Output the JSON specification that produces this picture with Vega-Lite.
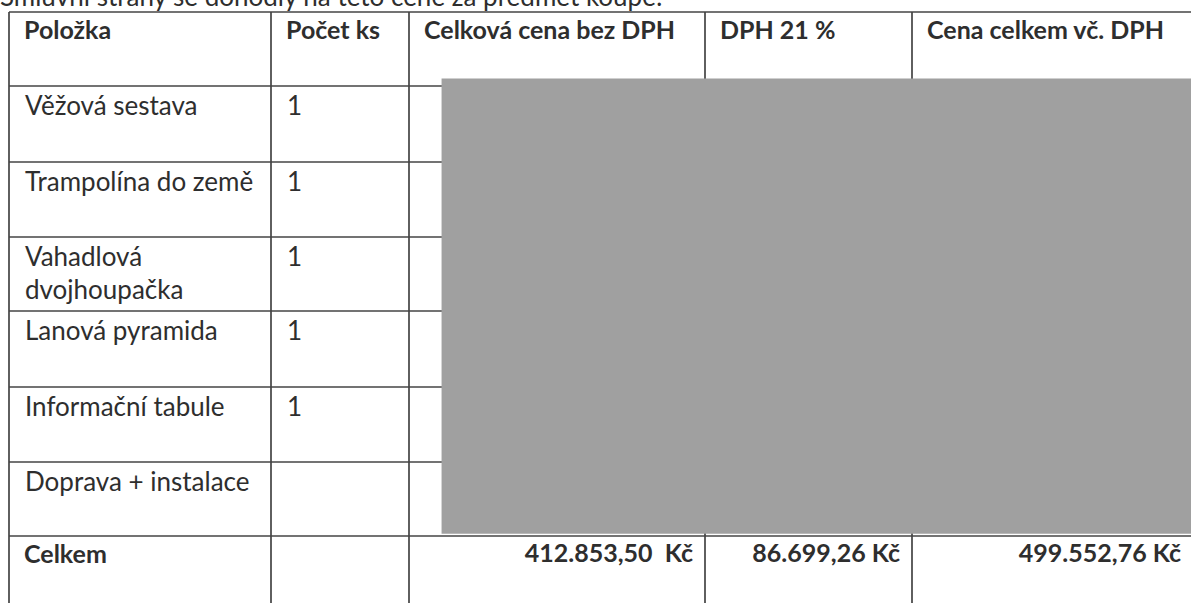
{
  "$schema": "https://vega.github.io/schema/vega-lite/v6.json",
  "width": 1191,
  "height": 603,
  "autosize": {"type": "none"},
  "padding": 0,
  "background": "white",
  "config": {
    "view": {"stroke": null},
    "text": {"font": "Lato", "fontSize": 25, "color": "#2e2e2e", "lineBreak": "\n", "lineHeight": 33, "baseline": "alphabetic", "align": "left"}
  },
  "datasets": {
    "hlines": [{"r": 0}, {"r": 1}, {"r": 2}, {"r": 3}, {"r": 4}, {"r": 5}, {"r": 6}, {"r": 7}, {"r": 8}],
    "vlines": [{"c": 0}, {"c": 1}, {"c": 2}, {"c": 3}, {"c": 4}, {"c": 5}],
    "redaction": [{"c0": 2.11, "c1": 5, "r0": 0.9, "r1": 6.97}],
    "caption": [{"text": "Smluvní strany se dohodly na této ceně za předmět koupě:"}],
    "cells": [
      {"section": "header", "r": 0, "c": 0, "text": "Položka"},
      {"section": "header", "r": 0, "c": 1, "text": "Počet ks"},
      {"section": "header", "r": 0, "c": 2, "text": "Celková cena bez DPH"},
      {"section": "header", "r": 0, "c": 3, "text": "DPH 21 %"},
      {"section": "header", "r": 0, "c": 4, "text": "Cena celkem vč. DPH"},
      {"section": "item", "r": 1, "c": 0, "text": "Věžová sestava"},
      {"section": "item", "r": 1, "c": 1, "text": "1"},
      {"section": "item", "r": 2, "c": 0, "text": "Trampolína do země"},
      {"section": "item", "r": 2, "c": 1, "text": "1"},
      {"section": "item", "r": 3, "c": 0, "text": "Vahadlová\ndvojhoupačka"},
      {"section": "item", "r": 3, "c": 1, "text": "1"},
      {"section": "item", "r": 4, "c": 0, "text": "Lanová pyramida"},
      {"section": "item", "r": 4, "c": 1, "text": "1"},
      {"section": "item", "r": 5, "c": 0, "text": "Informační tabule"},
      {"section": "item", "r": 5, "c": 1, "text": "1"},
      {"section": "item", "r": 6, "c": 0, "text": "Doprava + instalace"},
      {"section": "totalLabel", "r": 7, "c": 0, "text": "Celkem"},
      {"section": "total", "r": 7, "c": 2, "text": "412.853,50\u00a0 Kč"},
      {"section": "total", "r": 7, "c": 3, "text": "86.699,26 Kč"},
      {"section": "total", "r": 7, "c": 4, "text": "499.552,76 Kč"}
    ]
  },
  "layer": [
    {
      "data": {"name": "hlines"},
      "mark": {"type": "rule", "color": "#444444", "strokeWidth": 1.7},
      "encoding": {
        "y": {"field": "r", "type": "quantitative", "scale": {"domain": [0, 1, 2, 3, 4, 5, 6, 7, 8], "range": [12, 86, 162, 237, 311, 387, 462, 536, 611], "nice": false, "zero": false}, "axis": null},
        "x": {"datum": 0, "type": "quantitative", "scale": {"domain": [0, 1, 2, 3, 4, 5], "range": [9, 271, 409, 705, 912, 1193], "nice": false, "zero": false}, "axis": null},
        "x2": {"datum": 5}
      }
    },
    {
      "data": {"name": "vlines"},
      "mark": {"type": "rule", "color": "#444444", "strokeWidth": 1.7},
      "encoding": {
        "x": {"field": "c", "type": "quantitative", "axis": null},
        "y": {"datum": 0, "type": "quantitative", "axis": null},
        "y2": {"datum": 8}
      }
    },
    {
      "data": {"name": "redaction"},
      "mark": {"type": "rect", "color": "#a0a0a0"},
      "encoding": {
        "x": {"field": "c0", "type": "quantitative", "axis": null},
        "x2": {"field": "c1"},
        "y": {"field": "r0", "type": "quantitative", "axis": null},
        "y2": {"field": "r1"}
      }
    },
    {
      "data": {"name": "cells"},
      "transform": [{"filter": "datum.section === 'header' || datum.section === 'totalLabel'"}],
      "mark": {"type": "text", "fontWeight": "bold", "dx": 15, "dy": 27},
      "encoding": {
        "x": {"field": "c", "type": "quantitative", "axis": null},
        "y": {"field": "r", "type": "quantitative", "axis": null},
        "text": {"field": "text"}
      }
    },
    {
      "data": {"name": "cells"},
      "transform": [{"filter": "datum.section === 'item'"}],
      "mark": {"type": "text", "dx": 16, "dy": 29, "fontSize": 26},
      "encoding": {
        "x": {"field": "c", "type": "quantitative", "axis": null},
        "y": {"field": "r", "type": "quantitative", "axis": null},
        "text": {"field": "text"}
      }
    },
    {
      "data": {"name": "cells"},
      "transform": [{"filter": "datum.section === 'total'"}, {"calculate": "datum.c + 1", "as": "cRight"}],
      "mark": {"type": "text", "fontWeight": "bold", "align": "right", "dx": -12, "dy": 26},
      "encoding": {
        "x": {"field": "cRight", "type": "quantitative", "axis": null},
        "y": {"field": "r", "type": "quantitative", "axis": null},
        "text": {"field": "text"}
      }
    },
    {
      "data": {"name": "caption"},
      "mark": {"type": "text", "dx": -9, "dy": -6, "fontSize": 26},
      "encoding": {
        "x": {"datum": 0, "type": "quantitative", "axis": null},
        "y": {"datum": 0, "type": "quantitative", "axis": null},
        "text": {"field": "text"}
      }
    }
  ]
}
